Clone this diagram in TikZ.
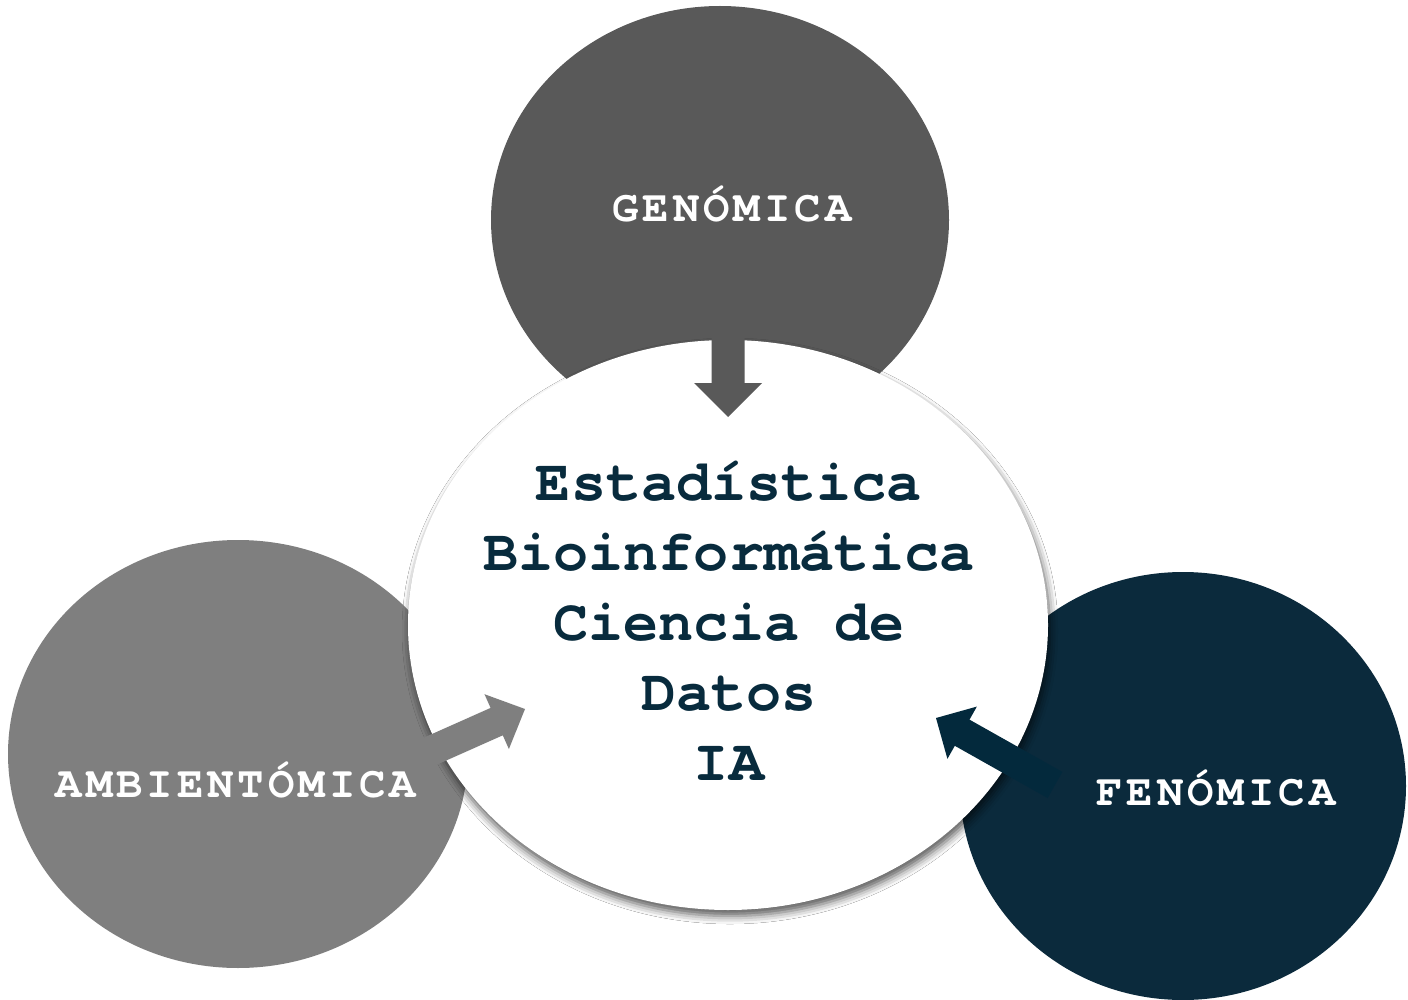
\documentclass[tikz,border=0pt]{standalone}
\usepackage{fontspec}
\setmonofont{TeX Gyre Cursor}
\usetikzlibrary{shapes.geometric,shadows.blur,calc}
\definecolor{gendark}{HTML}{595959}
\definecolor{ambgray}{HTML}{7F7F7F}
\definecolor{fennavy}{HTML}{0B2A3C}
\definecolor{arrnavy}{HTML}{03293C}
\definecolor{txtnavy}{HTML}{082B3D}
\newcommand{\blockarrow}[6]{% tail, tip, colour, half shaft, half head, head length
  \coordinate (ab) at ($(#2)!#6!(#1)$);
  \fill[#3] ($(#1)!#4!90:(#2)$) -- ($(ab)!#4!90:(#2)$) -- ($(ab)!#5!90:(#2)$)
    -- (#2) -- ($(ab)!#5!-90:(#2)$) -- ($(ab)!#4!-90:(#2)$) -- ($(#1)!#4!-90:(#2)$) -- cycle;
}
\tikzset{
  bubble/.style={ellipse, inner sep=0pt, draw=none},
  outerlabel/.style={text=white, font=\fontsize{44}{50}\selectfont\ttfamily\bfseries\addfontfeature{LetterSpace=9}, anchor=base, inner sep=0pt},
  corelabel/.style={text=txtnavy, font=\fontsize{58.5}{70}\selectfont\ttfamily\bfseries, align=center, anchor=base, inner sep=0pt}
}
\begin{document}
\begin{tikzpicture}[x=1pt,y=-1pt]
\useasboundingbox (0,0) rectangle (1408,1000);
\fill[white] (0,0) rectangle (1408,1000);
% outer bubbles
\node[bubble, fill=gendark, minimum width=458pt, minimum height=428pt] (gen) at (720,220) {};
\node[bubble, fill=ambgray, minimum width=460pt, minimum height=428pt] (amb) at (238,754) {};
\node[bubble, fill=fennavy, minimum width=446pt, minimum height=428pt] (fen) at (1183,786) {};
% central bubble
\node[bubble, fill=white, minimum width=640pt, minimum height=570pt,
  blur shadow={shadow xshift=2pt, shadow yshift=-6pt, shadow blur radius=8pt, shadow opacity=65}] (core) at (728,625) {};
% arrows
\coordinate (gtail) at (728,320);
\coordinate (gtip) at (728,417);
\coordinate (atail) at (406,762);
\coordinate (atip) at (525,709);
\coordinate (ftail) at (1055,785);
\coordinate (ftip) at (936,718);
\blockarrow{gtail}{gtip}{gendark}{16.5pt}{34pt}{34pt}
\blockarrow{atail}{atip}{ambgray}{15pt}{30pt}{31pt}
\blockarrow{ftail}{ftip}{arrnavy}{15pt}{30pt}{30pt}
% labels
\node[outerlabel] (genlabel) at (732,222) {GENÓMICA};
\node[outerlabel] (amblabel) at (236,797) {AMBIENTÓMICA};
\node[outerlabel] (fenlabel) at (1216,805) {FENÓMICA};
\node[corelabel] (corelabeltext) at (729,780) {Estadística\\Bioinformática\\Ciencia de\\Datos\\IA};
\end{tikzpicture}
\end{document}
